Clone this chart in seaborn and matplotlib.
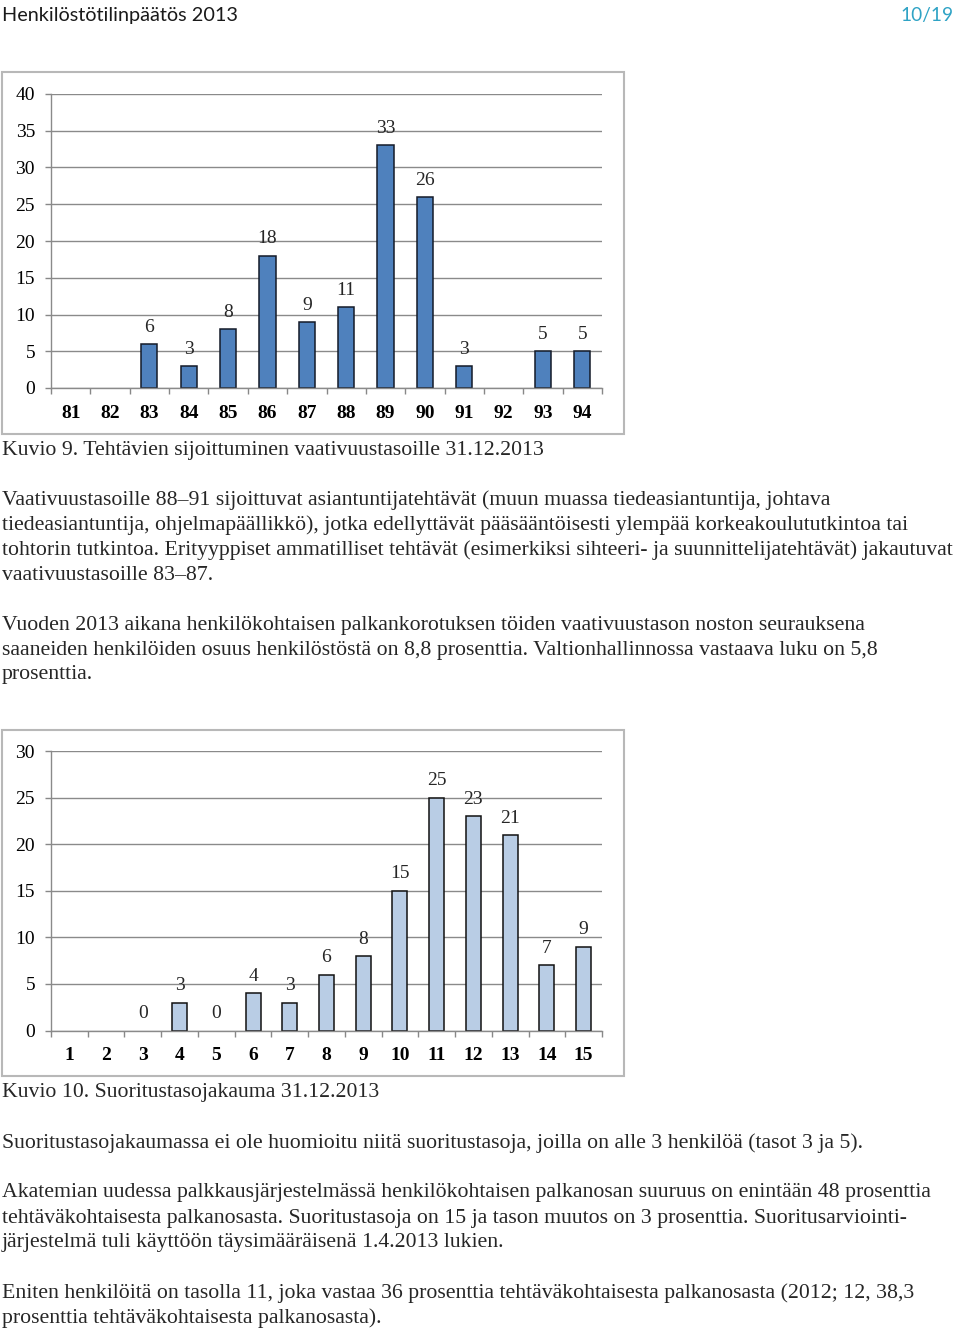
import numpy as np
import pandas as pd
import matplotlib
matplotlib.use("Agg")
import matplotlib.pyplot as plt
from matplotlib.patches import Rectangle
import seaborn as sns

# ---- data ----
levels1 = ["81", "82", "83", "84", "85", "86", "87", "88", "89", "90", "91", "92", "93", "94"]
counts1 = [np.nan, np.nan, 6, 3, 8, 18, 9, 11, 33, 26, 3, np.nan, 5, 5]
yticks1 = [0, 5, 10, 15, 20, 25, 30, 35, 40]

levels2 = ["1", "2", "3", "4", "5", "6", "7", "8", "9", "10", "11", "12", "13", "14", "15"]
counts2 = [np.nan, np.nan, 0, 3, 0, 4, 3, 6, 8, 15, 25, 23, 21, 7, 9]
yticks2 = [0, 5, 10, 15, 20, 25, 30]

header_left = "Henkilöstötilinpäätös 2013"
header_right = "10/19"
caption1 = "Kuvio 9. Tehtävien sijoittuminen vaativuustasoille 31.12.2013"
caption2 = "Kuvio 10. Suoritustasojakauma 31.12.2013"
para_lines = [
    (499, "Vaativuustasoille 88–91 sijoittuvat asiantuntijatehtävät (muun muassa tiedeasiantuntija, johtava"),
    (524, "tiedeasiantuntija, ohjelmapäällikkö), jotka edellyttävät pääsääntöisesti ylempää korkeakoulututkintoa tai"),
    (549, "tohtorin tutkintoa. Erityyppiset ammatilliset tehtävät (esimerkiksi sihteeri- ja suunnittelijatehtävät) jakautuvat"),
    (574, "vaativuustasoille 83–87."),
    (624, "Vuoden 2013 aikana henkilökohtaisen palkankorotuksen töiden vaativuustason noston seurauksena"),
    (649, "saaneiden henkilöiden osuus henkilöstöstä on 8,8 prosenttia. Valtionhallinnossa vastaava luku on 5,8"),
    (674, "prosenttia."),
    (1142, "Suoritustasojakaumassa ei ole huomioitu niitä suoritustasoja, joilla on alle 3 henkilöä (tasot 3 ja 5)."),
    (1192, "Akatemian uudessa palkkausjärjestelmässä henkilökohtaisen palkanosan suuruus on enintään 48 prosenttia"),
    (1217, "tehtäväkohtaisesta palkanosasta. Suoritustasoja on 15 ja tason muutos on 3 prosenttia. Suoritusarviointi-"),
    (1242, "järjestelmä tuli käyttöön täysimääräisenä 1.4.2013 lukien."),
    (1292, "Eniten henkilöitä on tasolla 11, joka vastaa 36 prosenttia tehtäväkohtaisesta palkanosasta (2012; 12, 38,3"),
    (1317, "prosenttia tehtäväkohtaisesta palkanosasta)."),
]

sns.set_theme(style="white")
plt.rcParams["font.family"] = ["Liberation Serif", "DejaVu Serif"]

W, H = 960, 1332
fig = plt.figure(figsize=(W / 100, H / 100), dpi=100)
fig.patch.set_facecolor("white")


def fx(px):
    return px / W


def fy(py):
    return 1 - py / H


serif = "Liberation Serif"
body_size = 15.7
chart_size = 14

# header
fig.text(fx(2), fy(16), header_left, family="Lato", fontsize=14.3, va="center", ha="left", color="#1a1a1a")
fig.text(fx(954), fy(16), header_right, family="Lato", fontsize=13.8, va="center", ha="right", color="#2FA3C5")


def frame(x0, y0, x1, y1):
    fig.patches.append(Rectangle((fx(x0), fy(y1)), fx(x1) - fx(x0), fy(y0) - fy(y1),
                                 transform=fig.transFigure, fill=False,
                                 edgecolor="#B8B8B8", linewidth=1.5))


def chart(levels, counts, yticks, box, face, edge):
    left, top, right, bottom = box
    ax = fig.add_axes([fx(left), fy(bottom), fx(right) - fx(left), fy(top) - fy(bottom)])
    df = pd.DataFrame({"level": levels, "count": counts})
    sns.barplot(data=df, x="level", y="count", order=levels, color=face,
                saturation=1, width=0.41, edgecolor=edge, linewidth=1.1, ax=ax, errorbar=None)
    for p in ax.patches:
        if p.get_height() == 0:
            p.set_linewidth(0)
    n = len(levels)
    ax.set_xlim(-0.5, n - 0.5)
    ax.set_ylim(yticks[0], yticks[-1])
    ax.set_yticks(yticks)
    ax.set_yticklabels([str(t) for t in yticks], family=serif, fontsize=chart_size)
    ax.set_xticks(range(n))
    ax.set_xticklabels(levels, family=serif, fontsize=chart_size, fontweight="bold")
    ax.set_xticks(np.arange(-0.5, n, 1), minor=True)
    ax.tick_params(axis="x", which="major", length=0, pad=12, colors="black")
    ax.tick_params(axis="x", which="minor", length=4.5, width=1, color="#888888", direction="out", bottom=True)
    ax.tick_params(axis="y", length=4.5, width=1, color="#888888", direction="out", left=True, pad=7, labelcolor="black")
    ax.yaxis.grid(True, color="#8A8A8A", linewidth=1)
    ax.xaxis.grid(False)
    ax.set_axisbelow(True)
    for s in ["top", "right"]:
        ax.spines[s].set_visible(False)
    for s in ["left", "bottom"]:
        ax.spines[s].set_color("#8A8A8A")
        ax.spines[s].set_linewidth(1)
    ax.set_xlabel("")
    ax.set_ylabel("")
    ax.set_facecolor("none")
    for i, c in enumerate(counts):
        if c is None or (isinstance(c, float) and np.isnan(c)):
            continue
        ax.annotate(f"{int(c)}", (i, c), xytext=(0, 6), textcoords="offset points",
                    ha="center", va="bottom", family=serif, fontsize=chart_size)
    return ax


frame(2, 72, 624, 434)
chart(levels1, counts1, yticks1, (51, 94, 602, 388), "#4F81BD", "#141a28")
fig.text(fx(2), fy(450), caption1, family=serif, fontsize=body_size, va="center", ha="left")

frame(2, 730, 624, 1076)
chart(levels2, counts2, yticks2, (51, 751, 602, 1030.5), "#B9CDE5", "#111111")
fig.text(fx(2), fy(1093), caption2, family=serif, fontsize=body_size, va="center", ha="left")

for y, line in para_lines:
    fig.text(fx(2), fy(y + 1), line, family=serif, fontsize=body_size, va="center", ha="left")

fig.savefig("out.png", dpi=100, facecolor="white")
